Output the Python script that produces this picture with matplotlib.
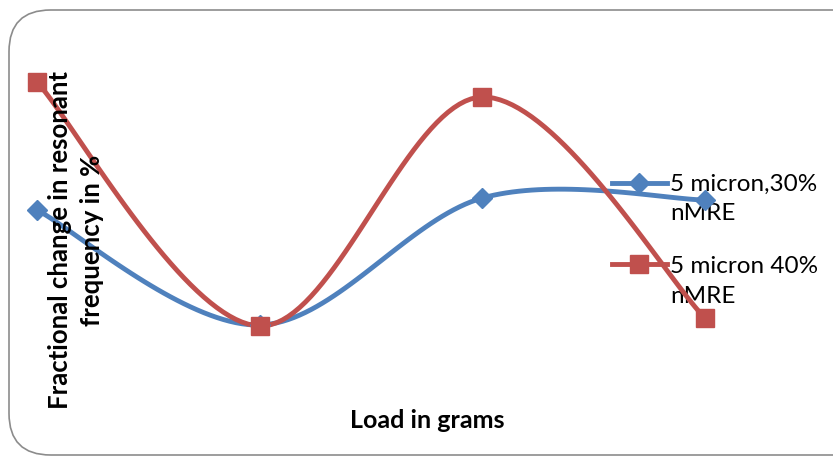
import matplotlib
matplotlib.use("Agg")
import matplotlib.pyplot as plt
import numpy as np
from matplotlib.patches import FancyBboxPatch

# data (no axis scale shown in the original, values read in relative units)
loads = [1, 2, 3, 4]
s1_name = "5 micron,30%"
s1_vals = [1.70, 0.55, 1.82, 1.80]
s2_name = "5 micron 40%"
s2_vals = [2.98, 0.54, 2.83, 0.62]
name_tail = "nMRE"

blue = "#4F81BD"
red = "#C0504D"


def smooth(x, y, n=40):
    # catmull-rom style smoothing like excel's "smoothed line"
    x = np.asarray(x, float)
    y = np.asarray(y, float)
    px = np.r_[x[0], x, x[-1]]
    py = np.r_[y[0], y, y[-1]]
    xs, ys = [], []
    for i in range(1, len(px) - 2):
        p0 = np.array([px[i], py[i]])
        p3 = np.array([px[i + 1], py[i + 1]])
        c1 = p0 + (np.array([px[i + 1], py[i + 1]]) - np.array([px[i - 1], py[i - 1]])) / 6
        c2 = p3 - (np.array([px[i + 2], py[i + 2]]) - np.array([px[i], py[i]])) / 6
        t = np.linspace(0, 1, n)[:, None]
        pts = (1 - t) ** 3 * p0 + 3 * (1 - t) ** 2 * t * c1 + 3 * (1 - t) * t ** 2 * c2 + t ** 3 * p3
        xs.extend(pts[:, 0])
        ys.extend(pts[:, 1])
    return xs, ys


fig = plt.figure(figsize=(8.33, 4.61), dpi=100)

# rounded chart border
border = FancyBboxPatch((9 / 833, 6 / 461), 900 / 833, 445 / 461,
                        boxstyle="round,pad=0,rounding_size=0.05",
                        transform=fig.transFigure, fill=False,
                        edgecolor="#8c8c8c", lw=1.2, mutation_aspect=833 / 461)
fig.patches.append(border)

ax = fig.add_axes([37 / 833, 81 / 461, 668 / 833, 340 / 461])
ax.set_xlim(1, 4)
ax.set_ylim(0, 3.4)
ax.axis("off")
ax.set_zorder(2)

for vals, col, mk, ms, name in [(s1_vals, blue, "D", 10, s1_name),
                                (s2_vals, red, "s", 13, s2_name)]:
    sx, sy = smooth(loads, vals)
    ax.plot(sx, sy, color=col, lw=3.5, clip_on=False, zorder=3, solid_capstyle="round")
    ax.plot(loads, vals, ls="none", marker=mk, ms=ms, color=col, clip_on=False, zorder=4)
    ax.plot([], [], color=col, lw=3.5, marker=mk, ms=ms, label=name)

fs = 17.5
leg = fig.legend(loc="upper left", bbox_to_anchor=(612 / 833, 1 - 174 / 461),
                 frameon=False, handlelength=2.26, handletextpad=0.12,
                 labelspacing=2.5, borderpad=0, borderaxespad=0,
                 prop={"family": "Lato", "size": fs})
leg.set_zorder(1)
for ypx in (213, 296):
    fig.text(670 / 833, 1 - ypx / 461, name_tail, ha="left", va="center",
             family="Lato", fontsize=fs, zorder=1)

fig.text(427 / 833, 1 - 420 / 461, "Load in grams", ha="center", va="center",
         fontsize=18, fontweight="bold", family="Lato")
fig.text(76 / 833, 1 - 240 / 461, "Fractional change in resonant\nfrequency in %",
         ha="center", va="center", rotation=90, fontsize=18.5, fontweight="bold",
         family="Lato", linespacing=1.4)

fig.savefig("out.png", dpi=100)
